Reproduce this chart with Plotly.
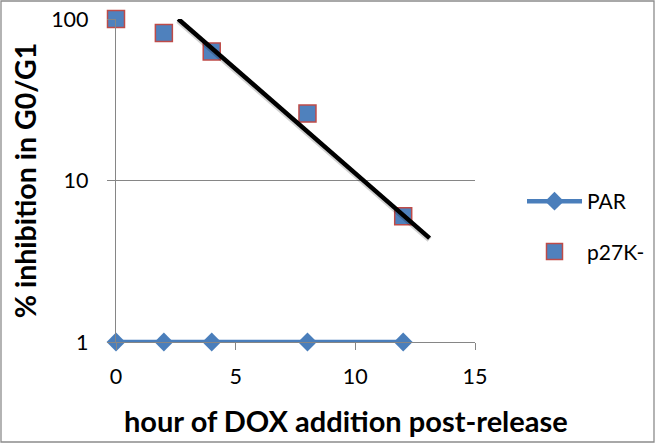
import plotly.graph_objects as go

# Data
hours = [0, 2, 4, 8, 12]
par_values = [1, 1, 1, 1, 1]
p27k_values = [100, 82, 63, 26, 6]
trend_x = [2.6, 13.1]
trend_y = [100, 4.4]
x_ticks = [0, 5, 10, 15]
y_ticks = [1, 10, 100]
y_tick_labels = ["1", "10", "100"]

W, H = 656, 444
ML, MR, MT, MB = 116, 181, 19, 102
PW, PH = W - ML - MR, H - MT - MB

FONT = "Lato"
GRID = "#868686"

fig = go.Figure()

fig.add_trace(go.Scatter(
    x=hours, y=par_values, name="PAR", mode="lines+markers",
    line=dict(color="#4a7ebb", width=4.5),
    marker=dict(symbol="diamond", size=14.5, color="#4a7ebb"),
    cliponaxis=False, legendgroup="a",
))

fig.add_trace(go.Scatter(
    x=hours, y=p27k_values, name="p27K-", mode="markers",
    marker=dict(symbol="square", size=17, color="#4f81bd",
                line=dict(color="#be4b48", width=1.5)),
    cliponaxis=False, legendgroup="b",
))

# shadow of the drawn line
fig.add_trace(go.Scatter(
    x=trend_x, y=trend_y, mode="lines", showlegend=False, hoverinfo="skip",
    line=dict(color="rgba(0,0,0,0.18)", width=6), cliponaxis=False,
    xaxis="x2", yaxis="y2",
))
fig.add_trace(go.Scatter(
    x=trend_x, y=trend_y, mode="lines", showlegend=False, hoverinfo="skip",
    line=dict(color="#000000", width=4.5), cliponaxis=False,
))

fig.update_layout(
    width=W, height=H,
    margin=dict(l=ML, r=MR, t=MT, b=MB, autoexpand=False),
    paper_bgcolor="white", plot_bgcolor="white",
    font=dict(family=FONT, color="#000000", size=21),
    xaxis=dict(
        range=[0, 15], tickvals=x_ticks, ticks="outside", ticklen=7,
        tickcolor=GRID, tickwidth=1.3, showgrid=False, zeroline=False,
        showline=True, linecolor=GRID, linewidth=1.3, automargin=False,
        tickfont=dict(family=FONT, size=21.5), ticklabelstandoff=8,
    ),
    yaxis=dict(
        type="log", range=[0, 2], tickvals=y_ticks, ticktext=y_tick_labels,
        ticks="outside", ticklen=8, tickcolor=GRID, tickwidth=1.3,
        showgrid=True, gridcolor=GRID, gridwidth=1.3, zeroline=False,
        showline=True, linecolor=GRID, linewidth=1.3, automargin=False,
        tickfont=dict(family=FONT, size=21.5), ticklabelstandoff=14,
        title=dict(text="<b>% inhibition in G0/G1</b>",
                   font=dict(family=FONT, size=28.5), standoff=6),
    ),
    xaxis2=dict(range=[0, 15], overlaying="x", visible=False, automargin=False),
    yaxis2=dict(type="log", range=[0.0093, 2.0093], overlaying="y",
                visible=False, automargin=False),
    legend=dict(
        xref="container", yref="container",
        x=522 / W, y=1 - 181 / H, xanchor="left", yanchor="top",
        font=dict(family=FONT, size=21), bgcolor="rgba(0,0,0,0)",
        itemwidth=55, tracegroupgap=20, traceorder="grouped",
    ),
    annotations=[dict(
        text="<b>hour of DOX addition post-release</b>",
        xref="paper", yref="paper",
        x=(346 - ML) / PW, y=(MT + PH - 420) / PH,
        xanchor="center", yanchor="middle", showarrow=False,
        font=dict(family=FONT, size=29, color="#000000"),
    )],
    shapes=[dict(
        type="rect", xref="paper", yref="paper",
        x0=(1 - ML) / PW, x1=(W - 2 - ML) / PW,
        y0=(MT + PH - (H - 2)) / PH, y1=(MT + PH - 1) / PH,
        line=dict(color="#8c8c8c", width=1.3), fillcolor="rgba(0,0,0,0)",
        layer="below",
    )],
)

fig.write_html(
    "out.html",
    config={"displayModeBar": False},
    post_script="document.body.style.margin='0';document.body.style.padding='0';",
)
